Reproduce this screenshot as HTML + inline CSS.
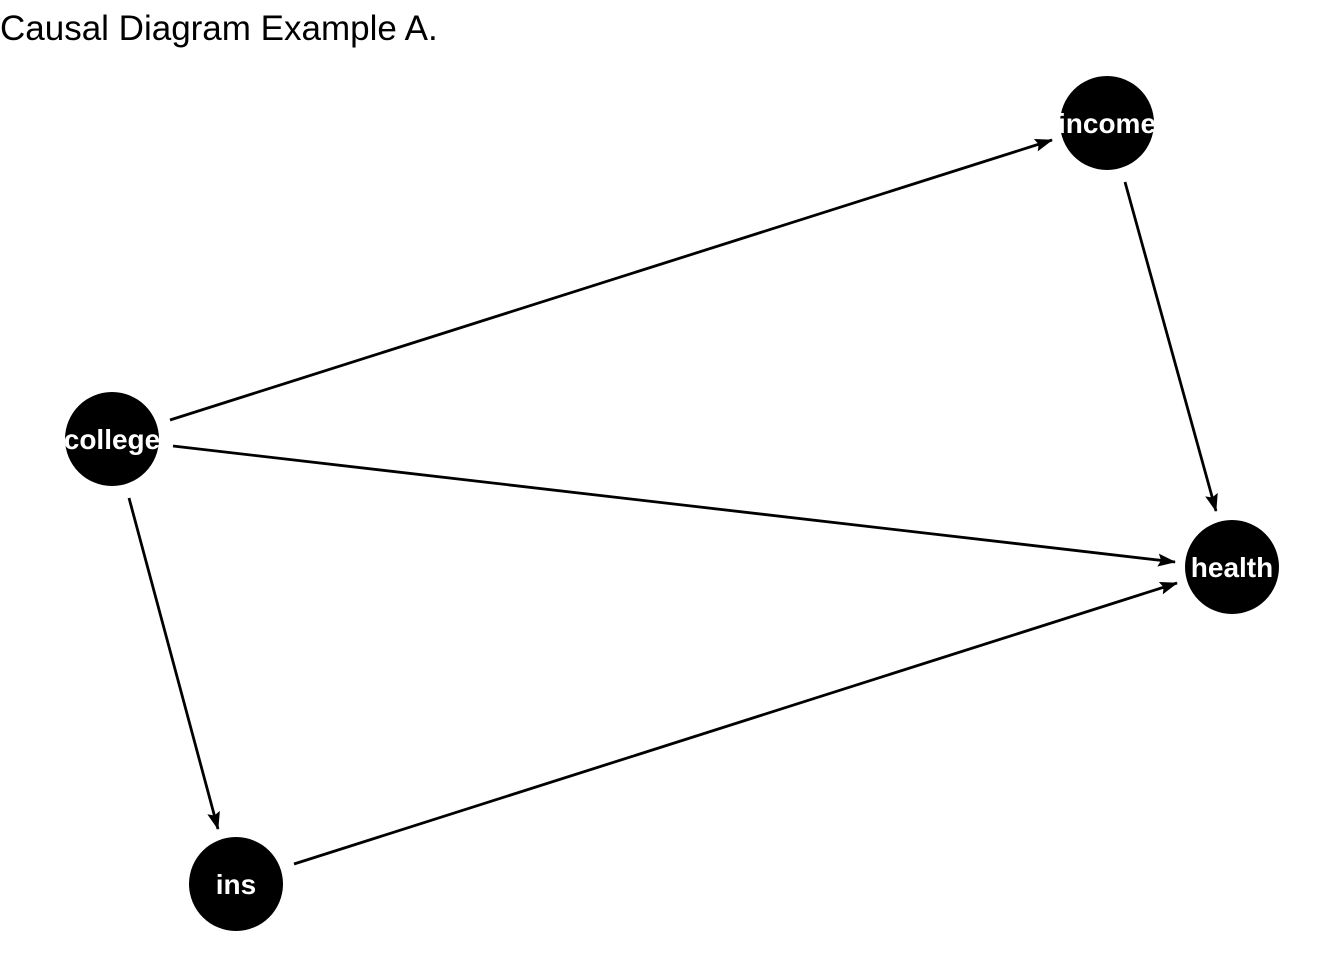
<!DOCTYPE html>
<html><head><style>
body{margin:0;background:#fff;}
svg{display:block}
</style></head><body>
<svg width="1344" height="960" xmlns="http://www.w3.org/2000/svg">
<defs>
<marker id="a" markerWidth="18" markerHeight="14" refX="17" refY="7" orient="auto" markerUnits="userSpaceOnUse" viewBox="0 0 18 14">
<path d="M0,0.5 L18,7 L0,13.5 L3,7 Z" fill="#000"/>
</marker>
</defs>
<text x="0" y="40" font-family="Liberation Sans, sans-serif" font-size="35" fill="#000">Causal Diagram Example A.</text>
<g stroke="#000" stroke-width="2.8" fill="none" marker-end="url(#a)">
<line x1="170" y1="420" x2="1052" y2="140"/>
<line x1="1125" y1="182" x2="1216" y2="511"/>
<line x1="173" y1="446" x2="1175" y2="562"/>
<line x1="129" y1="498" x2="218" y2="829"/>
<line x1="294" y1="864" x2="1177" y2="583"/>
</g>
<g fill="#000">
<circle cx="1107" cy="123" r="47"/>
<circle cx="112" cy="439" r="47"/>
<circle cx="1232" cy="567" r="47"/>
<circle cx="236" cy="884" r="47"/>
</g>
<g font-family="Liberation Sans, sans-serif" font-weight="bold" font-size="28" fill="#fff" text-anchor="middle">
<text x="1107" y="133">income</text>
<text x="112" y="449">college</text>
<text x="1232" y="577">health</text>
<text x="236" y="894">ins</text>
</g>
</svg>
</body></html>
